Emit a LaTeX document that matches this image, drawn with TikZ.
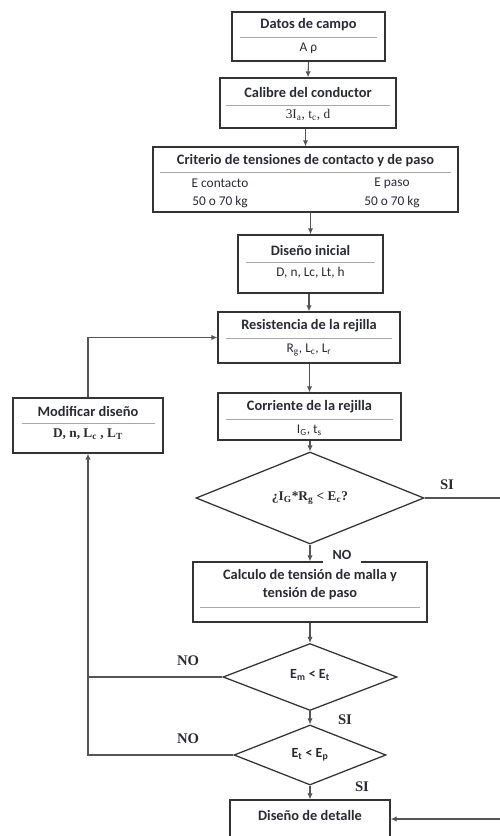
\documentclass[tikz,border=0pt]{standalone}
\usepackage{fontspec}
\setmainfont{Carlito}
\newfontfamily\tnr{Liberation Serif}
\usetikzlibrary{shapes.geometric,arrows.meta}
\definecolor{bord}{HTML}{333333}
\definecolor{divc}{HTML}{A8A8A8}
\definecolor{conn}{HTML}{555555}
\definecolor{txt}{HTML}{2A2A35}
\tikzset{
  box/.style={draw=bord, line width=0.95pt, rectangle, inner sep=0pt},
  dia/.style={draw=bord, line width=0.95pt, diamond, inner sep=0pt},
  divline/.style={draw=divc, line width=0.7pt},
  conline/.style={draw=conn, line width=0.8pt},
  arr/.style={conline, -{Latex[length=4.5pt,width=4pt]}},
  ttl/.style={font=\fontsize{10.8}{12.5}\selectfont\bfseries, text=txt, inner sep=0pt},
  sub/.style={font=\fontsize{10}{12}\selectfont, text=txt, inner sep=0pt},
  ser/.style={font=\fontsize{10}{12}\selectfont\tnr\bfseries, text=txt, inner sep=0pt},
  lab/.style={font=\fontsize{11}{12}\selectfont\tnr\bfseries, text=txt, inner sep=1pt},
}
\begin{document}
\begin{tikzpicture}[x=0.75pt,y=-0.75pt]
\useasboundingbox (0,0) rectangle (500,836);
% boxes
\node[box, minimum width=153*0.75pt, minimum height=49*0.75pt] (b1) at (308.5,36.5) {};
\node[ttl] (b1t) at (308.5,25) {Datos de campo};
\node[sub] (b1s) at (308.5,48) {A ρ};
\draw[divline] (240,37) -- (377,37);

\node[box, minimum width=176*0.75pt, minimum height=50*0.75pt] (b2) at (308,103) {};
\node[ttl] (b2t) at (308,92) {Calibre del conductor};
\node[ser, font=\fontsize{10}{12}\selectfont\tnr] (b2s) at (308,115) {3I\textsubscript{a}, t\textsubscript{c}, d};
\draw[divline] (226,105) -- (390,105);

\node[box, minimum width=305*0.75pt, minimum height=65*0.75pt] (b3) at (305.5,179.5) {};
\node[ttl] (b3t) at (305.5,161) {Criterio de tensiones de contacto y de paso};
\draw[divline] (160,172) -- (451,172);
\node[sub] (b3a) at (220,183) {E contacto};
\node[sub] (b3b) at (392,183) {E paso};
\node[sub] (b3c) at (220,202) {50 o 70 kg};
\node[sub] (b3d) at (392,202) {50 o 70 kg};

\node[box, minimum width=145*0.75pt, minimum height=58*0.75pt] (b4) at (310.5,264) {};
\node[ttl] (b4t) at (310.5,250) {Diseño inicial};
\draw[divline] (246,262) -- (375,262);
\node[sub] (b4s) at (310.5,273) {D, n, Lc, Lt, h};

\node[box, minimum width=182*0.75pt, minimum height=51*0.75pt] (b5) at (309,337.5) {};
\node[ttl] (b5t) at (309,326) {Resistencia de la rejilla};
\draw[divline] (226,338) -- (392,338);
\node[sub] (b5s) at (309,350) {R\textsubscript{g}, L\textsubscript{c}, L\textsubscript{r}};

\node[box, minimum width=183*0.75pt, minimum height=47*0.75pt] (b6) at (309.5,416.5) {};
\node[ttl] (b6t) at (309.5,407) {Corriente de la rejilla};
\draw[divline] (226,419) -- (393,419);
\node[sub] (b6s) at (309.5,430) {I\textsubscript{G}, t\textsubscript{s}};

\node[box, minimum width=150*0.75pt, minimum height=55*0.75pt] (mod) at (88,425.5) {};
\node[ttl] (modt) at (88,411) {Modificar diseño};
\draw[divline] (22,423) -- (155,423);
\node[ser] (mods) at (88,434) {D, n, L\textsubscript{c} , L\textsubscript{T}};

\node[dia, minimum width=228*0.75pt, minimum height=92*0.75pt] (d1) at (310,498) {};
\node[ser] (d1t) at (310,498) {¿I\textsubscript{G}*R\textsubscript{g} < E\textsubscript{c}?};

\node[box, minimum width=234*0.75pt, minimum height=60*0.75pt] (b7) at (310,592) {};
\node[ttl, align=center] (b7t) at (310,585) {Calculo de tensión de malla y\\[1pt]tensión de paso};
\draw[divline] (200,607) -- (420,607);

\node[dia, minimum width=174*0.75pt, minimum height=67*0.75pt] (d2) at (310,677) {};
\node[ttl, font=\fontsize{10.5}{12}\selectfont\bfseries] (d2t) at (310,675) {E\textsubscript{m} < E\textsubscript{t}};

\node[dia, minimum width=152*0.75pt, minimum height=60*0.75pt] (d3) at (310,755) {};
\node[ttl, font=\fontsize{10.5}{12}\selectfont\bfseries] (d3t) at (310,755) {E\textsubscript{t} < E\textsubscript{p}};

\node[box, minimum width=160*0.75pt, minimum height=38*0.75pt] (b8) at (310,819) {};
\node[ttl] (b8t) at (310,815) {Diseño de detalle};

% connectors
\draw[arr] (b1.south) -- (b2.north);
\draw[arr] (b2.south -| b3.north) -- (b3.north);
\draw[arr] (b3.south -| b4.north) -- (b4.north);
\draw[arr] (b4.south -| b5.north) -- (b5.north);
\draw[arr] (b5.south -| b6.north) -- (b6.north);
\draw[arr] (b6.south -| d1.north) -- (d1.north);
\draw[arr] (d1.south) -- (b7.north);
\draw[arr] (b7.south) -- (d2.north);
\draw[arr] (d2.south) -- (d3.north);
\draw[arr] (d3.south) -- (b8.north);
\coordinate (rc1) at (502,498);
\coordinate (rc2) at (502,819);
\draw[arr] (d1.east) -- (rc1) -- (rc2) -- (b8.east);
\draw[conline] (d2.west) -- (d2.west -| mod.south);
\draw[arr] (d3.west) -- (d3.west -| mod.south) -- (mod.south);
\draw[arr] (mod.north) -- (mod.north |- b5.west) -- (b5.west);

% labels
\node[lab] (si1) at (447,485) {SI};
\node[lab, font=\fontsize{10.5}{12}\selectfont\bfseries, fill=white, inner xsep=7pt, inner ysep=3.5pt] (no1) at (342,555) {NO};
\node[lab] (no2) at (188,661) {NO};
\node[lab] (si2) at (345,720) {SI};
\node[lab] (no3) at (188,739) {NO};
\node[lab] (si3) at (362,787) {SI};
\end{tikzpicture}
\end{document}
